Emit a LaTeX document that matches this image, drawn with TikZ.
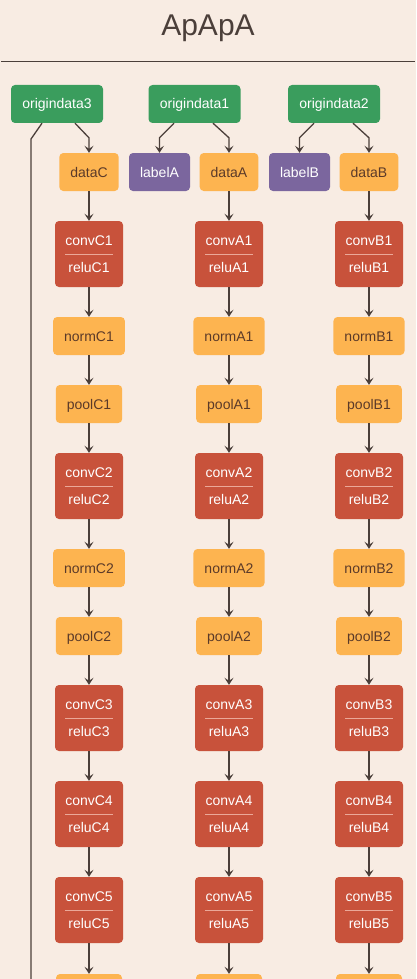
\documentclass[tikz,border=0pt]{standalone}
\usepackage{fontspec}
\setmainfont{Liberation Sans}
\usetikzlibrary{arrows.meta}
\definecolor{bg}{HTML}{F8ECE3}
\definecolor{ink}{HTML}{4B3F3A}
\definecolor{gbox}{HTML}{3A9D5D}
\definecolor{obox}{HTML}{FDB450}
\definecolor{rbox}{HTML}{C8523B}
\definecolor{pbox}{HTML}{7B669E}
\definecolor{otxt}{HTML}{5B3A29}
\definecolor{divc}{HTML}{EBA898}
\tikzset{
  box/.style={rounded corners=4pt, inner xsep=11pt, inner ysep=0pt, minimum height=38pt,
              text height=10pt, text depth=0pt, font=\fontsize{14}{16}\selectfont},
  greenbox/.style={box, fill=gbox, text=white, minimum width=92pt},
  orangebox/.style={box, fill=obox, text=otxt},
  purplebox/.style={box, fill=pbox, text=white, minimum width=61pt},
  conv/.style={rounded corners=4pt, fill=rbox, minimum width=68pt, minimum height=66pt, inner sep=0pt},
  wtxt/.style={text=white, inner sep=0pt, text height=10pt, text depth=0pt, font=\fontsize{14}{16}\selectfont},
  divider/.style={draw=divc, line width=0.6pt},
  arr/.style={draw=ink, line width=1.3pt, -{Stealth[length=7pt,width=9pt,inset=3pt]}},
  plain/.style={draw=ink, line width=1.3pt},
}
\begin{document}
\begin{tikzpicture}[x=1pt,y=-1pt]
\fill[bg] (0,0) rectangle (416,979);
\useasboundingbox (0,0) rectangle (416,979);
\clip (0,0) rectangle (416,979);

\node[text=ink, inner sep=0pt, text height=21.5pt, text depth=0pt, font=\fontsize{30}{32}\selectfont] (title) at (208,24.5) {ApApA};
\coordinate (hl) at (1,62);
\coordinate (hr) at (415,62);
\draw[draw=ink, line width=1pt] (hl) -- (hr);

\node[greenbox] (o3) at (57,104) {origindata3};
\node[greenbox] (o1) at (194.5,104) {origindata1};
\node[greenbox] (o2) at (334,104) {origindata2};

\node[purplebox] (labelA) at (159.5,172) {labelA};
\node[purplebox] (labelB) at (299.5,172) {labelB};

\foreach \c/\x in {C/89,A/229,B/369} {
  \node[orangebox] (data\c) at (\x,172) {data\c};
  \foreach \i/\y in {1/254,2/486,3/718,4/814,5/910} {
    \node[conv] (conv\c\i) at (\x,\y) {};
    \node[wtxt] (conv\c\i-t) at ([yshift=13.5pt]conv\c\i.center) {conv\c\i};
    \node[wtxt] (relu\c\i-t) at ([yshift=-13.5pt]conv\c\i.center) {relu\c\i};
    \draw[divider] ([xshift=-24pt]conv\c\i.center) -- ([xshift=24pt]conv\c\i.center);
  }
  \node[orangebox] (norm\c1) at (\x,336) {norm\c1};
  \node[orangebox] (pool\c1) at (\x,404) {pool\c1};
  \node[orangebox] (norm\c2) at (\x,568) {norm\c2};
  \node[orangebox] (pool\c2) at (\x,636) {pool\c2};
  \node[orangebox, minimum width=66pt] (next\c) at (\x,993) {};
  \draw[arr] (data\c) -- (conv\c1);
  \draw[arr] (conv\c1) -- (norm\c1);
  \draw[arr] (norm\c1) -- (pool\c1);
  \draw[arr] (pool\c1) -- (conv\c2);
  \draw[arr] (conv\c2) -- (norm\c2);
  \draw[arr] (norm\c2) -- (pool\c2);
  \draw[arr] (pool\c2) -- (conv\c3);
  \draw[arr] (conv\c3) -- (conv\c4);
  \draw[arr] (conv\c4) -- (conv\c5);
  \draw[arr] (conv\c5) -- (next\c);
}

\draw[arr] ([xshift=18pt]o3.south) -- ([yshift=15pt]dataC.north) -- (dataC.north);
\draw[arr] ([xshift=-20.5pt]o1.south) -- ([yshift=15pt]labelA.north) -- (labelA.north);
\draw[arr] ([xshift=18.5pt]o1.south) -- ([yshift=15pt]dataA.north) -- (dataA.north);
\draw[arr] ([xshift=-20pt]o2.south) -- ([yshift=15pt]labelB.north) -- (labelB.north);
\draw[arr] ([xshift=19pt]o2.south) -- ([yshift=15pt]dataB.north) -- (dataB.north);

\coordinate (bend3) at (31,139);
\coordinate (down3) at (31,1000);
\draw[plain] ([xshift=-15pt]o3.south) -- (bend3) -- (down3);
\end{tikzpicture}
\end{document}
